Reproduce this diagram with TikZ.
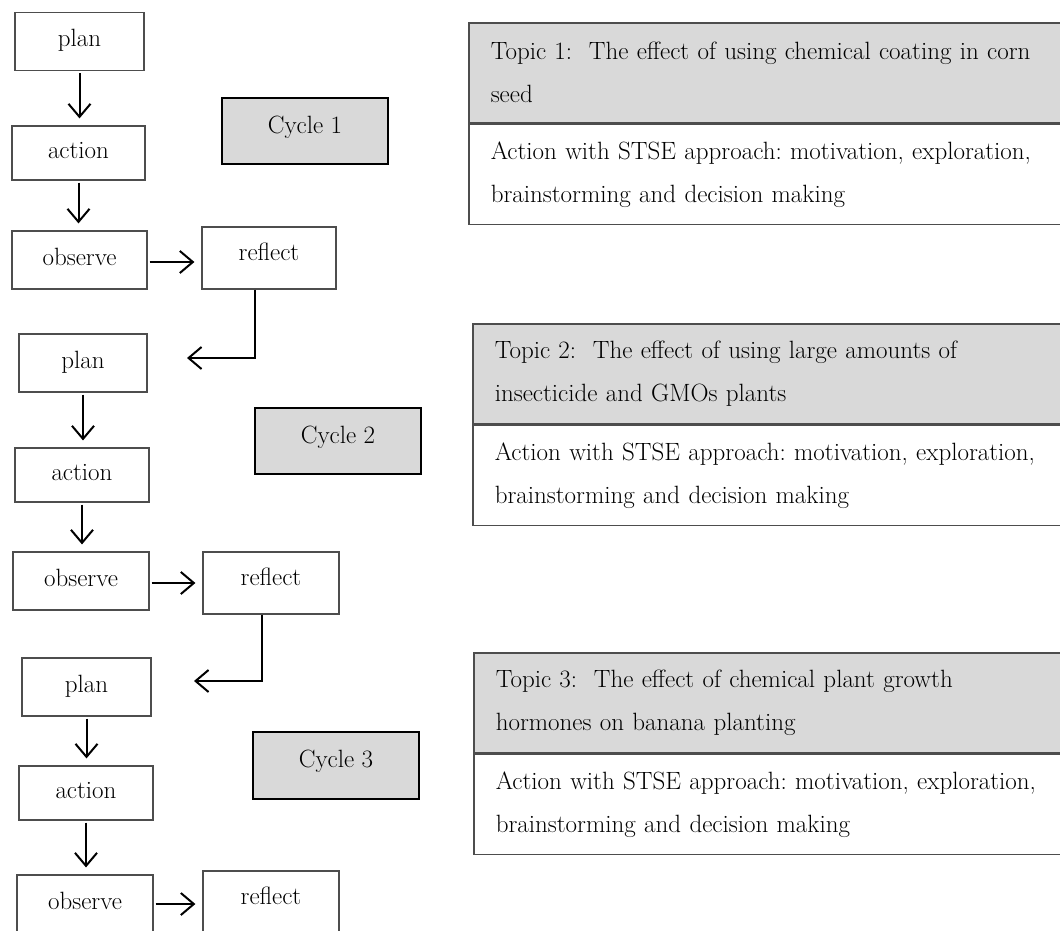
\documentclass[tikz,border=0pt]{standalone}
\usetikzlibrary{arrows.meta}

\definecolor{cellgray}{HTML}{D9D9D9}
\definecolor{edgegray}{HTML}{4D4D4D}

\tikzset{
  stagebox/.style={draw=edgegray, line width=1.2pt, minimum width=134pt, minimum height=58pt,
    inner sep=0pt, text height=16pt, text depth=6pt},
  reflectbox/.style={stagebox, minimum width=136pt, minimum height=62pt, text height=12pt, text depth=8pt},
  cyclebox/.style={draw=black, line width=2.2pt, fill=cellgray, minimum width=166pt, minimum height=66pt,
    inner sep=0pt, text height=12pt, text depth=8pt},
  topichead/.style={draw=edgegray, line width=1.5pt, fill=cellgray, anchor=north west, align=left,
    text width=600pt, minimum height=100pt, inner xsep=22pt, inner ysep=0pt},
  topicbody/.style={topichead, fill=white},
  flow/.style={line width=2pt, -{Straight Barb[length=13pt,width=22pt]}, shorten >=7pt, shorten <=2pt}
}

\begin{document}
\begin{tikzpicture}[x=1pt, y=-1pt, font=\fontsize{25}{43}\selectfont\frenchspacing]
\useasboundingbox (0,0) rectangle (1060,930);

% cycle 1
\node[stagebox, minimum width=129pt] (plan1) at (79.5,41.5) {plan};
\node[stagebox, minimum width=133pt, minimum height=54pt] (act1) at (78.5,153) {action};
\node[stagebox, minimum width=135pt] (obs1) at (79.5,260) {observe};
\node[reflectbox, minimum width=134pt] (refl1) at (269,258) {reflect};
\node[cyclebox] (cyc1) at (305,131) {Cycle 1};
\coordinate (back1) at (187,358);

\draw[flow] (plan1.south) -- (plan1.south |- act1.north);
\draw[flow] (act1.south) -- (act1.south |- obs1.north);
\draw[flow] ([yshift=-2pt]obs1.east) -- ([yshift=-2pt]obs1.east -| refl1.west);
\draw[flow, shorten >=0pt, shorten <=0pt] ([xshift=-14pt]refl1.south) |- (back1);

% cycle 2
\node[stagebox, minimum width=128pt] (plan2) at (83,363) {plan};
\node[stagebox, minimum height=54pt] (act2) at (82,475) {action};
\node[stagebox, minimum width=136pt] (obs2) at (81,581) {observe};
\node[reflectbox] (refl2) at (271,583) {reflect};
\node[cyclebox] (cyc2) at (338,441) {Cycle 2};
\coordinate (back2) at (194,681);

\draw[flow] (plan2.south) -- (plan2.south |- act2.north);
\draw[flow] (act2.south) -- (act2.south |- obs2.north);
\draw[flow] ([yshift=-2pt]obs2.east) -- ([yshift=-2pt]obs2.east -| refl2.west);
\draw[flow, shorten >=0pt, shorten <=0pt] ([xshift=-9pt]refl2.south) |- (back2);

% cycle 3
\node[stagebox, minimum width=129pt] (plan3) at (86.5,687) {plan};
\node[stagebox, minimum height=54pt] (act3) at (86,793) {action};
\node[stagebox, minimum width=136pt] (obs3) at (85,904) {observe};
\node[reflectbox] (refl3) at (271,902) {reflect};
\node[cyclebox, minimum height=67pt] (cyc3) at (336,765.5) {Cycle 3};

\draw[flow] (plan3.south) -- (plan3.south |- act3.north);
\draw[flow] (act3.south) -- (act3.south |- obs3.north);
\draw[flow] (obs3.east) -- (obs3.east -| refl3.west);

% topics
\node[topichead] (head1) at (468,22) {Topic 1:~ The effect of using chemical coating in corn\\seed};
\node[topicbody] (body1) at (head1.south west) {Action with STSE approach: motivation, exploration,\\brainstorming and decision making};

\node[topichead] (head2) at (472,323) {Topic 2:~ The effect of using large amounts of\\insecticide and GMOs plants};
\node[topicbody] (body2) at (head2.south west) {Action with STSE approach: motivation, exploration,\\brainstorming and decision making};

\node[topichead] (head3) at (473,652) {Topic 3:~ The effect of chemical plant growth\\hormones on banana planting};
\node[topicbody] (body3) at (head3.south west) {Action with STSE approach: motivation, exploration,\\brainstorming and decision making};

\end{tikzpicture}
\end{document}
